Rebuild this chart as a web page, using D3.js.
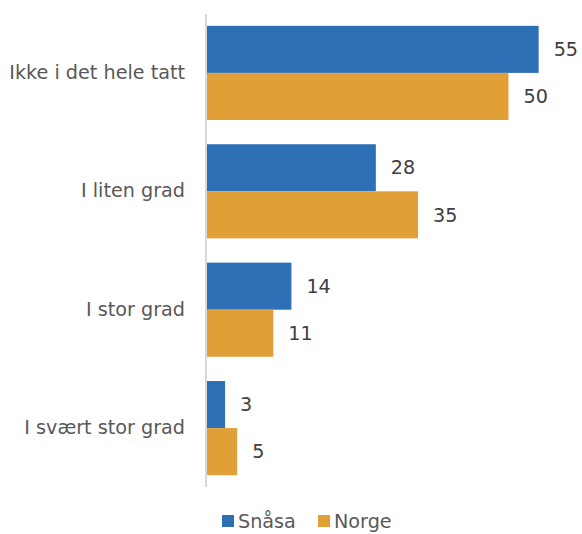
<!DOCTYPE html>
<html><head><meta charset="utf-8">
<script src="https://cdn.jsdelivr.net/npm/d3@7"></script>
<style>body{margin:0;background:#fff;}svg{display:block;}</style>
</head><body>
<script>
const categories = ["Ikke i det hele tatt", "I liten grad", "I stor grad", "I svært stor grad"];
const seriesNames = ["Snåsa", "Norge"];
const snasa = [55, 28, 14, 3];
const norge = [50, 35, 11, 5];
const colors = ["#2E70B6", "#E09F37"];

(function () {
const W = 582, H = 534;
const svg = d3.select("body").append("svg").attr("width", W).attr("height", H);
const pLeft = 207, pTop = 14, pBottom = 487;
const x = d3.scaleLinear().domain([0, 60]).range([pLeft, pLeft + 60 * 6.03]);
const y = d3.scaleBand().domain(categories).range([pTop, pBottom]).paddingInner(0.205).paddingOuter(0.1);
const y2 = d3.scaleBand().domain(seriesNames).range([0, y.bandwidth()]);
const font = "'DejaVu Sans', sans-serif";
const fs = 19.2;

const data = [snasa, norge];
categories.forEach((c, i) => {
  seriesNames.forEach((s, j) => {
    const v = data[j][i];
    svg.append("rect").attr("x", x(0)).attr("y", y(c) + y2(s))
      .attr("width", x(v) - x(0)).attr("height", y2.bandwidth()).attr("fill", colors[j]);
    svg.append("text").attr("x", x(v) + 15).attr("y", y(c) + y2(s) + y2.bandwidth() / 2)
      .attr("dy", "0.35em").attr("font-family", font).attr("font-size", fs).attr("fill", "#404040").text(v);
  });
});

const yAxis = svg.append("g").attr("transform", `translate(${pLeft - 1},0)`)
  .call(d3.axisLeft(y).tickSize(0).tickPadding(21));
yAxis.select(".domain").attr("stroke", "#d9d9d9").attr("stroke-width", 2)
  .attr("d", `M0,${pTop}V${pBottom}`);
yAxis.selectAll("text").attr("font-family", font).attr("font-size", fs).attr("fill", "#595959");

const legend = svg.append("g").attr("transform", "translate(222,521)");
const lx = [0, 96];
seriesNames.forEach((s, j) => {
  legend.append("rect").attr("x", lx[j]).attr("y", -6).attr("width", 12).attr("height", 12).attr("fill", colors[j]);
  legend.append("text").attr("x", lx[j] + 16).attr("y", 0).attr("dy", "0.35em")
    .attr("font-family", font).attr("font-size", fs).attr("fill", "#595959").text(s);
});
})();
</script>
</body></html>
